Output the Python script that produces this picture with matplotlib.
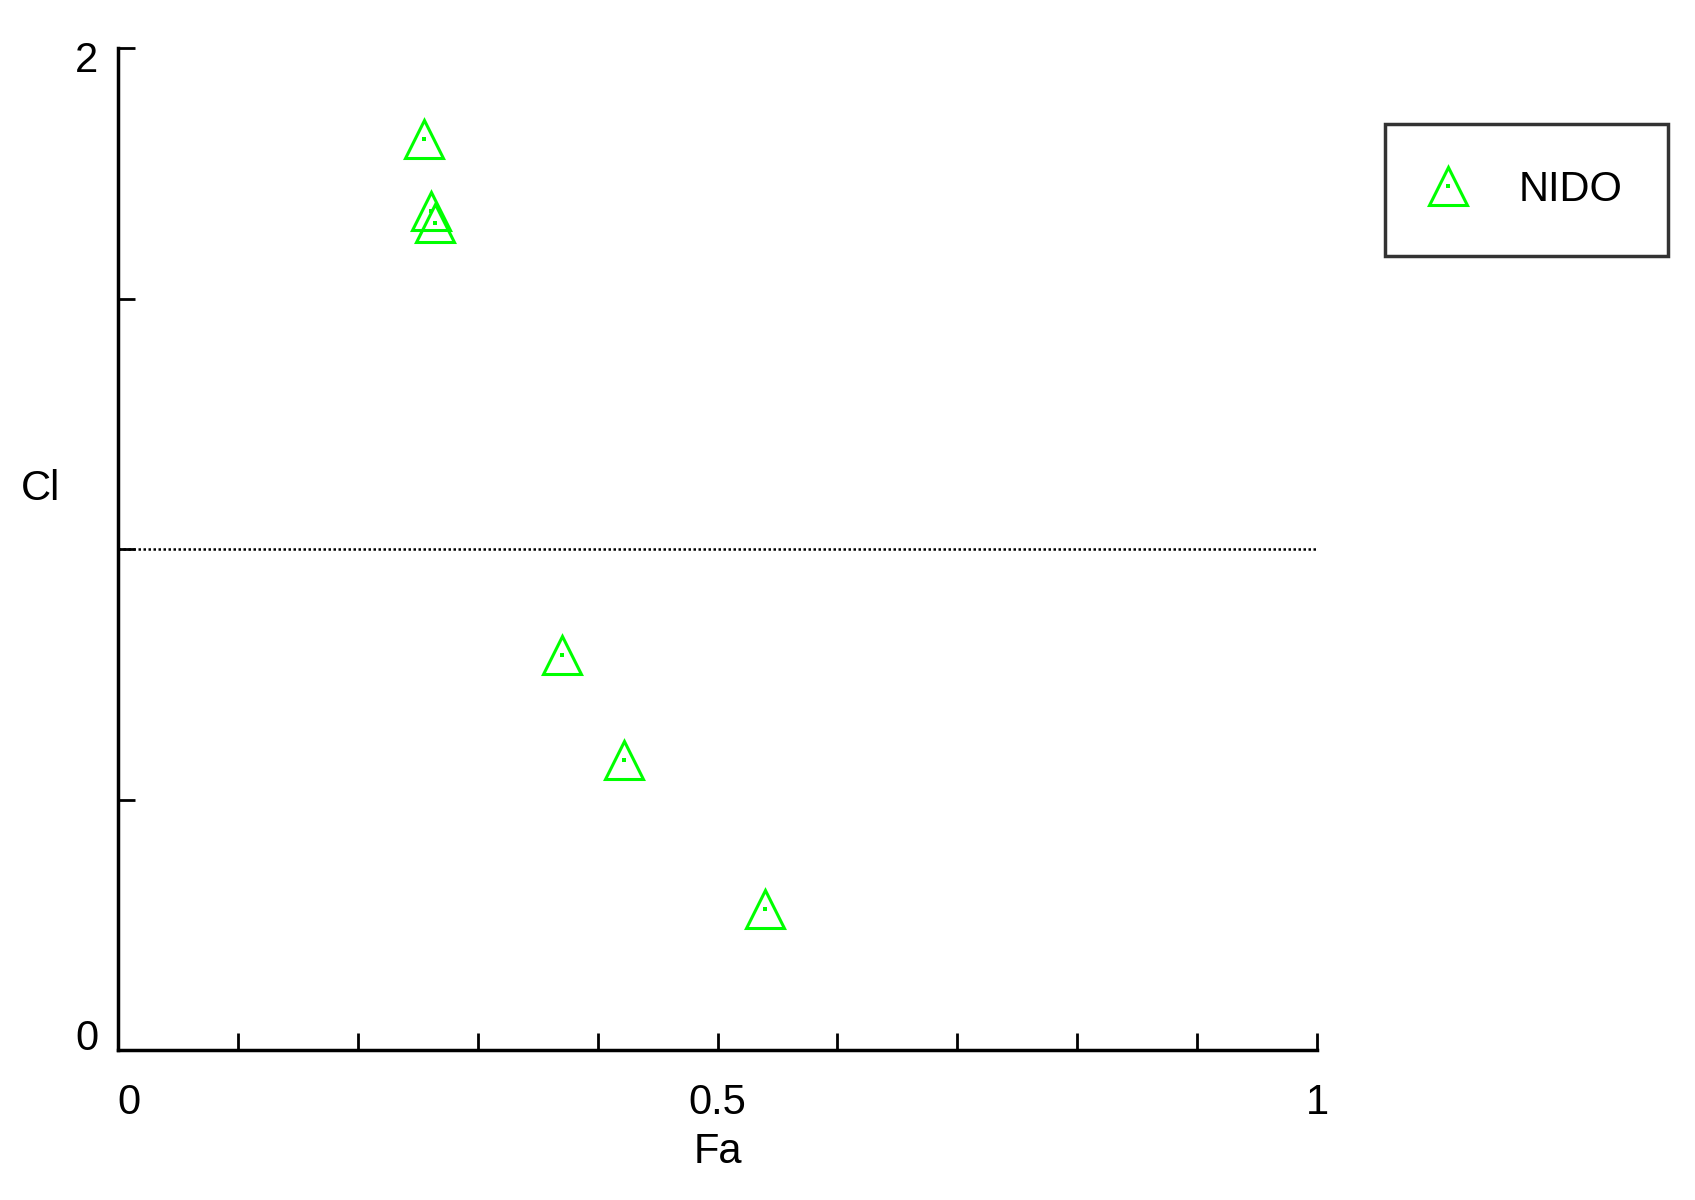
import numpy as np
from matplotlib import pyplot as plt
from matplotlib.transforms import ScaledTranslation

# NIDO points
fa = [0.255, 0.261, 0.264, 0.370, 0.422, 0.540]
cl = [1.818, 1.674, 1.651, 0.789, 0.579, 0.282]

x_ticks = np.round(np.arange(0, 1.01, 0.1), 1)
x_labels = ['0', '', '', '', '', '0.5', '', '', '', '', '1']
y_ticks = [0, 0.5, 1, 1.5, 2]
y_labels = ['0', '', '', '', '2']
ref_line = 1.0

plt.rcParams['font.family'] = ['Liberation Sans', 'DejaVu Sans']

fig = plt.figure(figsize=(16.95, 12), dpi=100)
ax = fig.add_axes([118 / 1695, 150 / 1200, 1199 / 1695, 1002 / 1200])

green = '#00ff00'
tri, = ax.plot(fa, cl, linestyle='none', marker='^', markersize=28,
               markerfacecolor='none', markeredgecolor=green, markeredgewidth=2.2)
dot, = ax.plot(fa, cl, linestyle='none', marker='s', markersize=3.5,
               color=green, markeredgewidth=0)

ax.plot([0, 1], [ref_line, ref_line], color='black', linestyle=(0, (1, 1)), linewidth=1.8)

ax.set_xlim(0, 1)
ax.set_ylim(0, 2)
ax.set_xticks(x_ticks)
ax.set_xticklabels(x_labels)
ax.set_yticks(y_ticks)
ax.set_yticklabels(y_labels)
ax.tick_params(direction='in', length=12, width=2, labelsize=30)
ax.tick_params(axis='x', pad=24)
ax.tick_params(axis='y', pad=14)

# small nudges of single labels, like in the original
ax.get_xticklabels()[0].set_transform(ax.get_xticklabels()[0].get_transform()
                                      + ScaledTranslation(0.11, 0, fig.dpi_scale_trans))
ax.get_yticklabels()[0].set_transform(ax.get_yticklabels()[0].get_transform()
                                      + ScaledTranslation(0, 0.16, fig.dpi_scale_trans))
ax.get_yticklabels()[-1].set_transform(ax.get_yticklabels()[-1].get_transform()
                                       + ScaledTranslation(0, -0.08, fig.dpi_scale_trans))

for side in ['top', 'right']:
    ax.spines[side].set_visible(False)
for side in ['left', 'bottom']:
    ax.spines[side].set_linewidth(2.5)

ax.set_xlabel('Fa', fontsize=30, labelpad=6)
ax.set_ylabel('Cl', fontsize=30, rotation=0)
ax.yaxis.set_label_coords(-0.065, 0.54)

leg = ax.legend([(tri, dot)], ['NIDO'], loc='upper left',
                bbox_to_anchor=(1385 / 1695, 1 - 124 / 1200),
                bbox_transform=fig.transFigure, fontsize=30,
                frameon=True, fancybox=False, borderpad=1.1,
                handlelength=0.8, handletextpad=1.3, borderaxespad=0)
leg.get_frame().set_edgecolor('black')
leg.get_frame().set_linewidth(2.5)

plt.savefig('out.png', dpi=100)
